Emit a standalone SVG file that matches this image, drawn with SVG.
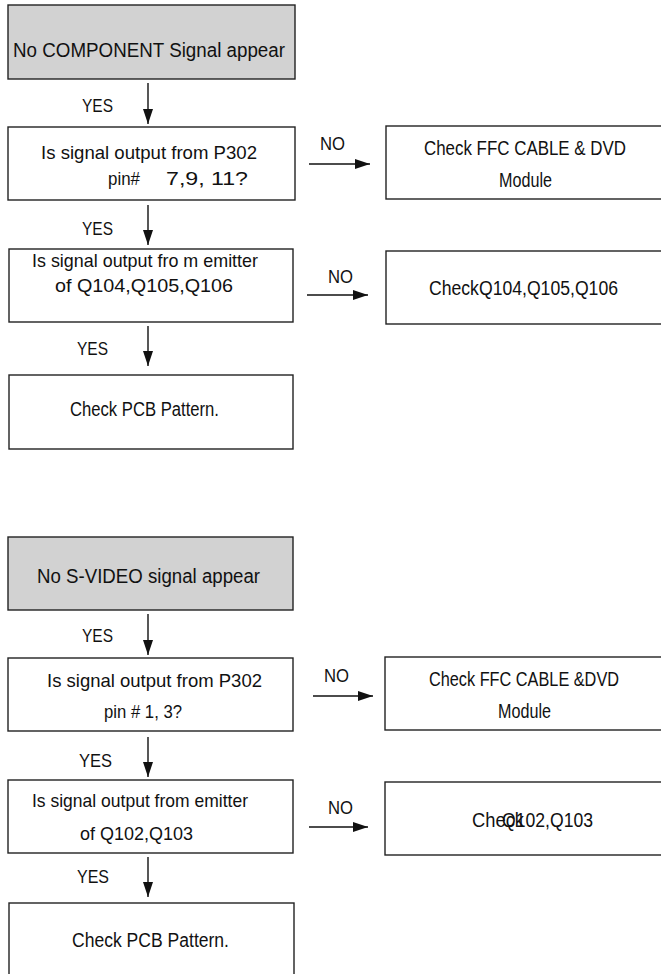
<svg xmlns="http://www.w3.org/2000/svg" width="661" height="974" viewBox="0 0 661 974">
<style>
.box{fill:#fff;stroke:#222;stroke-width:1.4}
.start{fill:#d2d2d2;stroke:#222;stroke-width:1.4}
text{font-family:"Liberation Sans",Arial,sans-serif;font-size:19px;fill:#111}
.t{font-size:20px}
.b{font-size:20px}
.c{stroke:#111;stroke-width:1.4;fill:none;marker-end:url(#ah)}
</style>
<defs>
<marker id="ah" markerUnits="userSpaceOnUse" markerWidth="16" markerHeight="12" refX="15" refY="5" orient="auto">
<path d="M0,0 L15,5 L0,10 Z" fill="#111"/>
</marker>
</defs>
<g id="n1"><rect class="start" x="8" y="5" width="287" height="74"/><text class="t" x="13" y="57" textLength="272" lengthAdjust="spacingAndGlyphs">No COMPONENT Signal appear</text></g>
<g id="n2"><rect class="box" x="8" y="127" width="287" height="73"/><text x="41" y="159" textLength="216" lengthAdjust="spacingAndGlyphs">Is signal output from P302</text><text x="108" y="185" textLength="32" lengthAdjust="spacingAndGlyphs">pin#</text><text x="166" y="185" textLength="82" lengthAdjust="spacingAndGlyphs">7,9,  11?</text></g>
<g id="n3"><rect class="box" x="386" y="126" width="290" height="73"/><text class="b" x="424" y="155" textLength="202" lengthAdjust="spacingAndGlyphs">Check  FFC CABLE  &amp; DVD</text><text class="b" x="499" y="187" textLength="53" lengthAdjust="spacingAndGlyphs">Module</text></g>
<g id="n4"><rect class="box" x="9" y="249" width="284" height="73"/><text x="32" y="267" textLength="226" lengthAdjust="spacingAndGlyphs">Is signal output fro m emitter</text><text x="55" y="292" textLength="178" lengthAdjust="spacingAndGlyphs">of Q104,Q105,Q106</text></g>
<g id="n5"><rect class="box" x="386" y="251" width="290" height="73"/><text class="b" x="429" y="295" textLength="189" lengthAdjust="spacingAndGlyphs">CheckQ104,Q105,Q106</text></g>
<g id="n6"><rect class="box" x="9" y="375" width="284" height="74"/><text class="b" x="70" y="416" textLength="149" lengthAdjust="spacingAndGlyphs">Check PCB Pattern.</text></g>
<g id="n7"><rect class="start" x="8" y="537" width="285" height="73"/><text class="t" x="37" y="583" textLength="223" lengthAdjust="spacingAndGlyphs">No S-VIDEO signal appear</text></g>
<g id="n8"><rect class="box" x="8" y="658" width="285" height="73"/><text x="47" y="687" textLength="215" lengthAdjust="spacingAndGlyphs">Is signal  output from  P302</text><text x="104" y="718" textLength="78" lengthAdjust="spacingAndGlyphs">pin # 1, 3?</text></g>
<g id="n9"><rect class="box" x="385" y="657" width="290" height="73"/><text class="b" x="429" y="686" textLength="190" lengthAdjust="spacingAndGlyphs">Check FFC CABLE &amp;DVD</text><text class="b" x="498" y="718" textLength="53" lengthAdjust="spacingAndGlyphs">Module</text></g>
<g id="n10"><rect class="box" x="8" y="780" width="285" height="73"/><text x="32" y="807" textLength="216" lengthAdjust="spacingAndGlyphs">Is signal output from emitter</text><text x="80" y="840" textLength="113" lengthAdjust="spacingAndGlyphs">of Q102,Q103</text></g>
<g id="n11"><rect class="box" x="385" y="782" width="290" height="73"/><text class="b" x="472" y="827" textLength="52" lengthAdjust="spacingAndGlyphs">Check</text><text class="b" x="502" y="827" textLength="91" lengthAdjust="spacingAndGlyphs">Q102,Q103</text></g>
<g id="n12"><rect class="box" x="9" y="903" width="285" height="90"/><text class="b" x="72" y="947" textLength="157" lengthAdjust="spacingAndGlyphs">Check PCB Pattern.</text></g>
<g id="connectors">
<line class="c" x1="148" y1="83" x2="148" y2="124"/>
<line class="c" x1="148" y1="205" x2="148" y2="245"/>
<line class="c" x1="148" y1="326" x2="148" y2="366"/>
<line class="c" x1="148" y1="614" x2="148" y2="655"/>
<line class="c" x1="148" y1="737" x2="148" y2="777"/>
<line class="c" x1="148" y1="857" x2="148" y2="897"/>
<line class="c" x1="309" y1="164" x2="370" y2="164"/>
<line class="c" x1="307" y1="295" x2="368" y2="295"/>
<line class="c" x1="313" y1="696" x2="373" y2="696"/>
<line class="c" x1="309" y1="827" x2="368" y2="827"/>
<text x="82" y="112" textLength="31" lengthAdjust="spacingAndGlyphs">YES</text>
<text x="82" y="235" textLength="31" lengthAdjust="spacingAndGlyphs">YES</text>
<text x="77" y="355" textLength="31" lengthAdjust="spacingAndGlyphs">YES</text>
<text x="82" y="642" textLength="31" lengthAdjust="spacingAndGlyphs">YES</text>
<text x="79" y="767" textLength="33" lengthAdjust="spacingAndGlyphs">YES</text>
<text x="77" y="883" textLength="32" lengthAdjust="spacingAndGlyphs">YES</text>
<text x="320" y="150" textLength="25" lengthAdjust="spacingAndGlyphs">NO</text>
<text x="328" y="283" textLength="25" lengthAdjust="spacingAndGlyphs">NO</text>
<text x="324" y="682" textLength="25" lengthAdjust="spacingAndGlyphs">NO</text>
<text x="328" y="814" textLength="25" lengthAdjust="spacingAndGlyphs">NO</text>
</g>
</svg>
